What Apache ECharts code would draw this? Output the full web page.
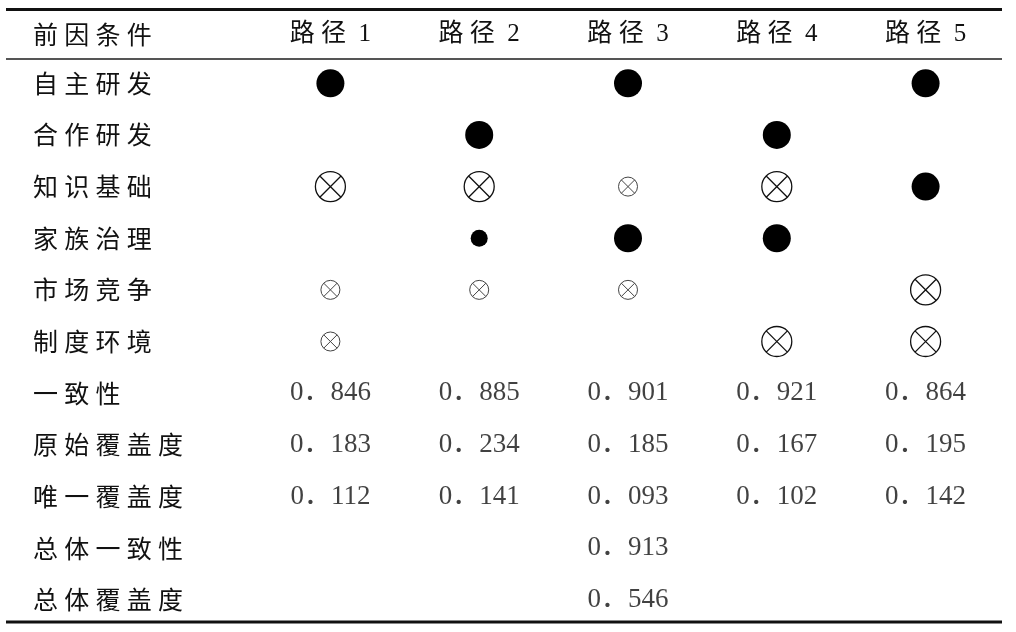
<!DOCTYPE html>
<html>
<head>
<meta charset="utf-8">
<script src="https://cdn.jsdelivr.net/npm/echarts@6/dist/echarts.min.js"></script>
<style>
  html, body { margin: 0; padding: 0; background: #fff; }
  #main { width: 1016px; height: 632px; }
</style>
</head>
<body>
<div id="main"></div>
<script>
// 表头与行名
var headerLabel = '前因条件';
var paths = ['路径 1', '路径 2', '路径 3', '路径 4', '路径 5'];
var conditions = ['自主研发', '合作研发', '知识基础', '家族治理', '市场竞争', '制度环境'];
var metricRows = ['一致性', '原始覆盖度', '唯一覆盖度', '总体一致性', '总体覆盖度'];

// 每条路径中各条件的状态: C 核心存在, c 边缘存在, X 核心缺失, x 边缘缺失, '' 无
var path1 = ['C', '', 'X', '', 'x', 'x'];
var path2 = ['', 'C', 'X', 'c', 'x', ''];
var path3 = ['C', '', 'x', 'C', 'x', ''];
var path4 = ['', 'C', 'X', 'C', '', 'X'];
var path5 = ['C', '', 'C', '', 'X', 'X'];

// 数值
var consistency = [0.846, 0.885, 0.901, 0.921, 0.864];
var rawCoverage = [0.183, 0.234, 0.185, 0.167, 0.195];
var uniqueCoverage = [0.112, 0.141, 0.093, 0.102, 0.142];
var overallConsistency = 0.913;
var overallCoverage = 0.546;

var rows = conditions.concat(metricRows);
var states = [path1, path2, path3, path4, path5];

// 按状态分组
function pick(code) {
  var out = [];
  states.forEach(function (col, i) {
    col.forEach(function (s, j) {
      if (s === code) out.push([i, j]);
    });
  });
  return out;
}

// 数值单元格
var numberCells = [];
var m0 = conditions.length;
for (var i = 0; i < paths.length; i++) {
  numberCells.push([i, m0, consistency[i]]);
  numberCells.push([i, m0 + 1, rawCoverage[i]]);
  numberCells.push([i, m0 + 2, uniqueCoverage[i]]);
}
numberCells.push([2, m0 + 3, overallConsistency]);
numberCells.push([2, m0 + 4, overallCoverage]);

var CJK = "'Noto Sans CJK SC', sans-serif";
var NUM = "'Liberation Serif', 'Noto Sans CJK SC', serif";
var CROSS = 'path://M50,1A49,49,0,1,1,49.9,1ZM15.4,15.4L84.6,84.6M84.6,15.4L15.4,84.6';

// 字间距
function spaced(s) {
  return s.replace(/([\u4e00-\u9fff])(?=[\u4e00-\u9fff])/g, '$1\u2005').replace(' ', '\u2002');
}

var hidden = { show: false };
var labelY = {
  align: 'left',
  margin: 223,
  color: '#111',
  fontSize: 25,
  fontFamily: CJK,
  formatter: function (v) { return spaced(v); }
};

var chart = echarts.init(document.getElementById('main'));
chart.setOption({
  animation: false,
  backgroundColor: '#fff',
  grid: [
    { left: 256, right: 16, top: 9.5, height: 49.5 },
    { left: 256, right: 16, top: 57.5, bottom: 6.5 }
  ],
  xAxis: [
    {
      gridIndex: 0,
      type: 'category',
      data: paths,
      position: 'top',
      axisLine: hidden, axisTick: hidden, splitLine: hidden,
      axisLabel: {
        inside: true,
        margin: 25,
        verticalAlign: 'middle',
        color: '#111',
        fontSize: 25,
        fontFamily: NUM,
        formatter: function (v) { return spaced(v); }
      }
    },
    {
      gridIndex: 1,
      type: 'category',
      data: paths,
      axisLine: hidden, axisTick: hidden, splitLine: hidden, axisLabel: hidden
    }
  ],
  yAxis: [
    {
      gridIndex: 0,
      type: 'category',
      data: [headerLabel],
      axisLine: hidden, axisTick: hidden, splitLine: hidden,
      axisLabel: labelY
    },
    {
      gridIndex: 1,
      type: 'category',
      data: rows,
      inverse: true,
      axisLine: hidden, axisTick: hidden, splitLine: hidden,
      axisLabel: labelY
    }
  ],
  graphic: [
    { type: 'line', shape: { x1: 6, y1: 9.5, x2: 1002, y2: 9.5 }, style: { stroke: '#111', lineWidth: 3 } },
    { type: 'line', shape: { x1: 6, y1: 59, x2: 1002, y2: 59 }, style: { stroke: '#555', lineWidth: 2 } },
    { type: 'line', shape: { x1: 6, y1: 622, x2: 1002, y2: 622 }, style: { stroke: '#111', lineWidth: 3 } }
  ],
  series: [
    {
      name: '核心存在', type: 'scatter', xAxisIndex: 1, yAxisIndex: 1, data: pick('C'),
      symbol: 'circle', symbolSize: 28, itemStyle: { color: '#000', opacity: 1 }
    },
    {
      name: '边缘存在', type: 'scatter', xAxisIndex: 1, yAxisIndex: 1, data: pick('c'),
      symbol: 'circle', symbolSize: 17, itemStyle: { color: '#000', opacity: 1 }
    },
    {
      name: '核心缺失', type: 'scatter', xAxisIndex: 1, yAxisIndex: 1, data: pick('X'),
      symbol: CROSS, symbolSize: 30,
      itemStyle: { color: 'rgba(0,0,0,0)', borderColor: '#111', borderWidth: 1.3, opacity: 1 }
    },
    {
      name: '边缘缺失', type: 'scatter', xAxisIndex: 1, yAxisIndex: 1, data: pick('x'),
      symbol: CROSS, symbolSize: 19,
      itemStyle: { color: 'rgba(0,0,0,0)', borderColor: '#444', borderWidth: 1, opacity: 1 }
    },
    {
      name: '数值', type: 'scatter', xAxisIndex: 1, yAxisIndex: 1, data: numberCells,
      symbolSize: 0,
      label: {
        show: true,
        position: 'inside',
        color: '#111',
        fontSize: 27,
        fontFamily: NUM,
        formatter: function (p) { return p.value[2].toFixed(3).replace('.', '\uff0e'); }
      }
    }
  ]
});
</script>
</body>
</html>
